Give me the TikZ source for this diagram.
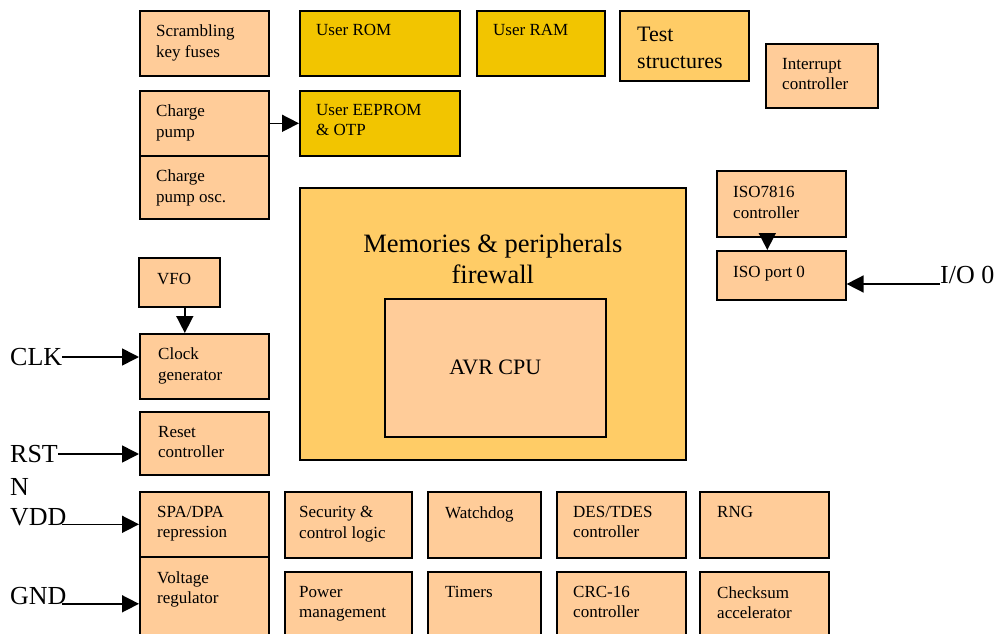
\documentclass[tikz,border=0pt]{standalone}
\usepackage{fontspec}
\setmainfont{Liberation Serif}
\usetikzlibrary{arrows.meta,calc}
\definecolor{peach}{HTML}{FFCC99}
\definecolor{gold}{HTML}{F2C500}
\definecolor{amber}{HTML}{FFCC66}
\begin{document}
\begin{tikzpicture}[x=1pt,y=-1pt,
  blk/.style={draw=black, line width=1.6pt, fill=peach, inner sep=0pt, anchor=north west},
  gblk/.style={blk, fill=gold},
  ablk/.style={blk, fill=amber},
  lbl/.style={inner sep=0pt, anchor=north west, align=left, font=\fontsize{17}{20.5}\selectfont},
  biglbl/.style={inner sep=0pt, font=\fontsize{26}{33}\selectfont},
  arr/.style={line width=1.6pt, -{Triangle[length=17pt,width=17pt]}},
]
\useasboundingbox (0,0) rectangle (996,634);
\clip (0,0) rectangle (996,634);

% top row
\node[blk, minimum width=129pt, minimum height=65pt] (skf) at (139,10) {};
\node[lbl] (skft) at ([shift={(17,15)}]skf.north west) {Scrambling\\key fuses};
\node[gblk, minimum width=160pt, minimum height=65pt] (rom) at (299,10) {};
\node[lbl] (romt) at ([shift={(17,14)}]rom.north west) {User ROM};
\node[gblk, minimum width=128pt, minimum height=65pt] (ram) at (476,10) {};
\node[lbl] (ramt) at ([shift={(17,14)}]ram.north west) {User RAM};
\node[ablk, minimum width=129pt, minimum height=70pt] (tst) at (619,10) {};
\node[lbl, font=\fontsize{22}{27}\selectfont] (tstt) at ([shift={(18,17)}]tst.north west) {Test\\structures};
\node[blk, minimum width=112pt, minimum height=64pt] (irq) at (765,43) {};
\node[lbl] (irqt) at ([shift={(17,15)}]irq.north west) {Interrupt\\controller};

% charge pump & EEPROM
\node[blk, minimum width=129pt, minimum height=65pt] (cp) at (139,90) {};
\node[lbl] (cpt) at ([shift={(17,15)}]cp.north west) {Charge\\pump};
\node[blk, minimum width=129pt, minimum height=63pt] (cpo) at (139,155) {};
\node[lbl] (cpot) at ([shift={(17,15)}]cpo.north west) {Charge\\pump osc.};
\node[gblk, minimum width=160pt, minimum height=65pt] (eep) at (299,90) {};
\node[lbl] (eept) at ([shift={(17,14)}]eep.north west) {User EEPROM\\\& OTP};

% firewall and CPU
\node[ablk, minimum width=386pt, minimum height=272pt] (fw) at (299,187) {};
\node[inner sep=0pt, anchor=north, align=center, font=\fontsize{26.5}{31}\selectfont] (fwt) at ([shift={(0,47)}]fw.north) {Memories \& peripherals\\firewall};
\node[blk, minimum width=221pt, minimum height=138pt, font=\fontsize{22}{26}\selectfont] (cpu) at (384,298) {\raisebox{-2pt}{AVR CPU}};

% ISO
\node[blk, minimum width=129pt, minimum height=66pt] (iso) at (716,170) {};
\node[lbl] (isot) at ([shift={(17,16)}]iso.north west) {ISO7816\\controller};
\node[blk, minimum width=129pt, minimum height=49pt] (port) at (716,250) {};
\node[lbl] (portt) at ([shift={(17,16)}]port.north west) {ISO port 0};

% left column
\node[blk, minimum width=81pt, minimum height=49pt] (vfo) at (138,257) {};
\node[lbl] (vfot) at ([shift={(19,16)}]vfo.north west) {VFO};
\node[blk, minimum width=129pt, minimum height=65pt] (clk) at (139,333) {};
\node[lbl] (clkt) at ([shift={(19,15)}]clk.north west) {Clock\\generator};
\node[blk, minimum width=129pt, minimum height=63pt] (rst) at (139,411) {};
\node[lbl] (rstt) at ([shift={(19,15)}]rst.north west) {Reset\\controller};
\node[blk, minimum width=129pt, minimum height=65pt] (spa) at (139,491) {};
\node[lbl] (spat) at ([shift={(18,15)}]spa.north west) {SPA/DPA\\repression};
\node[blk, minimum width=129pt, minimum height=94pt] (vreg) at (139,556) {};
\node[lbl] (vregt) at ([shift={(18,15)}]vreg.north west) {Voltage\\regulator};

% bottom grid
\node[blk, minimum width=127pt, minimum height=66pt] (sec) at (284,491) {};
\node[lbl] (sect) at ([shift={(15,15)}]sec.north west) {Security \&\\control logic};
\node[blk, minimum width=113pt, minimum height=66pt] (wd) at (427,491) {};
\node[lbl] (wdt) at ([shift={(18,15)}]wd.north west) {Watchdog};
\node[blk, minimum width=129pt, minimum height=66pt] (des) at (556,491) {};
\node[lbl] (dest) at ([shift={(17,15)}]des.north west) {DES/TDES\\controller};
\node[blk, minimum width=129pt, minimum height=66pt] (rng) at (699,491) {};
\node[lbl] (rngt) at ([shift={(18,15)}]rng.north west) {RNG};
\node[blk, minimum width=127pt, minimum height=79pt] (pwr) at (284,571) {};
\node[lbl] (pwrt) at ([shift={(15,15)}]pwr.north west) {Power\\management};
\node[blk, minimum width=113pt, minimum height=79pt] (tim) at (427,571) {};
\node[lbl] (timt) at ([shift={(18,15)}]tim.north west) {Timers};
\node[blk, minimum width=129pt, minimum height=79pt] (crc) at (556,571) {};
\node[lbl] (crct) at ([shift={(17,15)}]crc.north west) {CRC-16\\controller};
\node[blk, minimum width=129pt, minimum height=79pt] (chk) at (699,571) {};
\node[lbl] (chkt) at ([shift={(18,15)}]chk.north west) {Checksum\\accelerator};

% external signal labels
\node[biglbl, anchor=west] (clkl) at (10,357) {CLK};
\node[biglbl, anchor=west] (rstl) at (10,454) {RST};
\node[biglbl, anchor=west] (rstn) at (10,487) {N};
\node[biglbl, anchor=west] (vddl) at (10,517) {VDD};
\node[biglbl, anchor=west] (gndl) at (10,596) {GND};
\node[biglbl, anchor=base west] (iol) at (940,283) {I/O 0};

% connectors
\draw[arr] (cp.east) -- (eep.west);
\draw[arr] ([xshift=5.5pt]vfo.south) -- ([xshift=5.5pt]vfo.south |- clk.north);
\draw[arr] ([xshift=-14pt]iso.south) -- ([xshift=-14pt]iso.south |- port.north);
\draw[arr] (clkl.east) -- (clkl.east -| clk.west);
\draw[arr] (rstl.east) -- (rstl.east -| rst.west);
\draw[arr] ([xshift=-5pt]vddl.east |- spa.west) -- (spa.west);
\draw[arr] ([xshift=-5pt]gndl.east |- vreg.west) -- (vreg.west);
\draw[arr] ([yshift=-1pt]iol.base west) -- ([yshift=-1pt]iol.base west -| port.east);
\end{tikzpicture}
\end{document}
